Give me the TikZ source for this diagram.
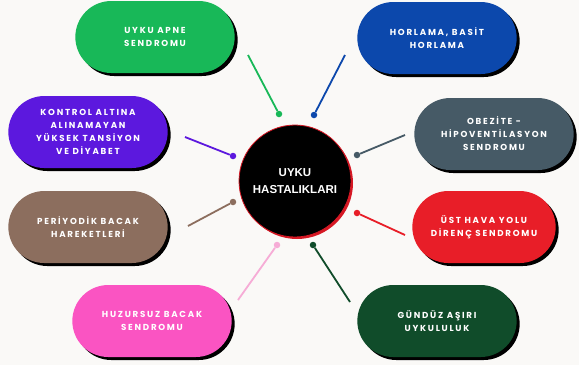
\documentclass[tikz,border=0pt]{standalone}
\usepackage{fontspec}
\setmainfont{Poppins}
\newfontfamily\pillfont[LetterSpace=20]{Poppins}
\newfontfamily\hubfont{Liberation Sans}
\usetikzlibrary{shapes.misc,shadows}

\definecolor{paper}{RGB}{250,249,247}
\definecolor{apnegreen}{RGB}{24,184,88}
\definecolor{snoreblue}{RGB}{12,72,172}
\definecolor{bpviolet}{RGB}{92,24,222}
\definecolor{obeslate}{RGB}{70,90,102}
\definecolor{legbrown}{RGB}{140,110,94}
\definecolor{airred}{RGB}{232,30,40}
\definecolor{restpink}{RGB}{250,84,194}
\definecolor{restpinkline}{RGB}{246,172,214}
\definecolor{dayforest}{RGB}{16,76,42}
\definecolor{hubred}{RGB}{214,24,36}

\tikzset{
    pill/.style={rounded rectangle, minimum width=166pt, minimum height=72pt,
        text=white, align=center,
        font=\pillfont\bfseries\fontsize{8.7}{13}\selectfont,
        drop shadow={shadow xshift=3pt, shadow yshift=-3pt, fill=black, opacity=1}},
    hub/.style={circle, minimum size=112pt, fill=black, draw=hubred, line width=0.8pt,
        text=white, align=center, font=\hubfont\bfseries\fontsize{11.5}{17}\selectfont,
        drop shadow={shadow xshift=2pt, shadow yshift=-2pt, fill=hubred, opacity=1}},
    link/.style={line width=1.8pt},
    dot/.style={circle, inner sep=0pt, minimum size=6.5pt}
}

\begin{document}
\begin{tikzpicture}[x=1pt, y=-1pt]
    % Canvas
    \fill[paper] (0,0) rectangle (579,365);
    \useasboundingbox (0,0) rectangle (579,365);

    % Centre
    \node[hub] (hub) at (295,181) {UYKU\\HASTALIKLARI};

    % Disorders
    \node[pill, fill=apnegreen] (apne) at (155,37) {UYKU APNE\\SENDROMU};
    \node[pill, fill=snoreblue] (horlama) at (437,38) {HORLAMA, BAS\.IT\\HORLAMA};
    \node[pill, fill=bpviolet] (tansiyon) at (88,132) {KONTROL ALTINA\\ALINAMAYAN\\Y\"UKSEK TANS\.IYON\\VE D\.IYABET};
    \node[pill, fill=obeslate] (obezite) at (494,134) {OBEZ\.ITE -\\H\.IPOVENT\.ILASYON\\SENDROMU};
    \node[pill, fill=legbrown] (periyodik) at (88,227) {PER\.IYOD\.IK BACAK\\HAREKETLER\.I};
    \node[pill, fill=airred, minimum width=150pt] (usthava) at (484,227) {\"UST HAVA YOLU\\D\.IREN\c{C} SENDROMU};
    \node[pill, fill=restpink] (huzursuz) at (152,321) {HUZURSUZ BACAK\\SENDROMU};
    \node[pill, fill=dayforest] (gunduz) at (437,321) {G\"UND\"UZ A\c{S}IRI\\UYKULULUK};

    % Spokes: free end near the pill, dot near the centre
    \foreach \n/\col/\sx/\sy/\ex/\ey in {
        a/apnegreen/248/55/279/114,
        b/snoreblue/345/55/314/115,
        c/bpviolet/185/137/233/156,
        d/obeslate/405/135/357/155,
        e/legbrown/188/226/233/202,
        f/airred/405/235/357/213,
        g/restpinkline/238/300/277/245,
        h/dayforest/350/302/313/245} {
        \coordinate (s\n) at (\sx,\sy);
        \node[dot, fill=\col] (d\n) at (\ex,\ey) {};
        \draw[link, \col] (s\n) -- (d\n);
    }
\end{tikzpicture}
\end{document}
